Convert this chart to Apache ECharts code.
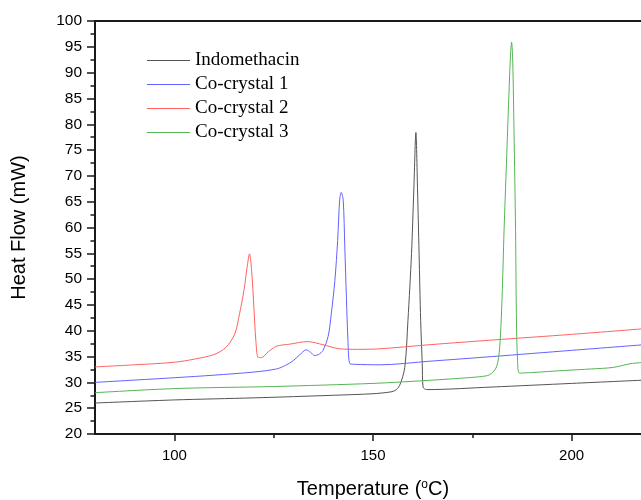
<!DOCTYPE html>
<html>
<head>
<meta charset="utf-8">
<script src="https://cdn.jsdelivr.net/npm/echarts@6/dist/echarts.min.js"></script>
<style>
html,body{margin:0;padding:0;background:#fff;}
#chart{width:641px;height:500px;}
</style>
</head>
<body>
<div id="chart"></div>
<script>
// ---- Data ----
const seriesNames = ['Indomethacin', 'Co-crystal 1', 'Co-crystal 2', 'Co-crystal 3'];

const indoT = [80, 100, 120, 140, 150, 154, 155.5, 156.7, 158, 158.8, 159.7, 160.3, 160.8, 161.2, 161.6, 162.0, 162.4, 162.6, 163.5, 180, 200, 220];
const indoV = [26.0, 26.6, 27.0, 27.5, 27.8, 28.1, 28.4, 29.4, 32.9, 42, 55, 67.8, 78.4, 67.8, 55, 42, 33.7, 29.1, 28.6, 29.1, 29.8, 30.5];

const cc1T = [80, 100, 110, 120, 125.7, 128, 129.9, 131.5, 133.2, 134.3, 135.3, 136.3, 137.4, 138.7, 139.5, 140.4, 141.1, 141.6, 142.0, 142.5, 142.9, 143.3, 143.7, 144.2, 145.4, 151.7, 164.3, 180, 200, 220];
const cc1V = [30.0, 30.9, 31.4, 32.0, 32.6, 33.3, 34.2, 35.3, 36.3, 35.8, 35.2, 35.4, 36.2, 38.9, 43.3, 49.7, 57.5, 65.3, 66.8, 65.3, 56.2, 46.5, 38.1, 33.6, 33.5, 33.4, 34.1, 35.0, 36.2, 37.4];

const cc2T = [80, 90, 100, 105, 110, 113, 115.2, 116.4, 117.5, 118.3, 118.9, 119.5, 120, 120.5, 121.1, 121.9, 123.6, 125.7, 129, 133.5, 137.4, 141.6, 145.8, 151.7, 164.3, 180, 200, 220];
const cc2V = [33.0, 33.4, 33.9, 34.5, 35.4, 36.8, 39.4, 43.3, 47.8, 52.3, 54.9, 51, 44.6, 38.1, 34.8, 34.8, 35.9, 37.0, 37.4, 37.9, 37.3, 36.5, 36.4, 36.5, 37.3, 38.2, 39.3, 40.5];

const cc3T = [80, 100, 125, 150, 164.3, 172, 176.9, 179.4, 181.1, 181.9, 182.5, 183, 183.6, 184.2, 184.6, 184.9, 185.2, 185.5, 185.9, 186.1, 186.4, 186.9, 190, 197.9, 205, 210.5, 214.7, 220];
const cc3V = [28.0, 28.8, 29.2, 29.8, 30.4, 30.8, 31.1, 31.5, 33.0, 36.8, 46.5, 59.4, 72.4, 85.3, 93, 95.9, 91.7, 78.8, 59.4, 43.3, 34.2, 31.8, 31.9, 32.3, 32.6, 32.9, 33.6, 34.0];

const xTickLabels = [100, 150, 200];
const xMinorTicks = [125, 175];

// ---- Chart ----
const colors = ['#555555', '#6262ff', '#ff6262', '#55b455'];
const pair = (t, v) => t.map((x, i) => [x, v[i]]);
const allT = [indoT, cc1T, cc2T, cc3T];
const allV = [indoV, cc1V, cc2V, cc3V];

const gridRect = { left: 95, top: 21, right: -10, bottom: 66, outerBoundsMode: 'none', containLabel: false };
const sans = 'Liberation Sans, Arial, sans-serif';

const chart = echarts.init(document.getElementById('chart'), null, { renderer: 'canvas' });
chart.setOption({
  animation: false,
  backgroundColor: '#fff',
  grid: [
    Object.assign({ show: true, borderColor: '#1a1a1a', borderWidth: 2, backgroundColor: 'transparent' }, gridRect),
    Object.assign({}, gridRect)
  ],
  legend: {
    orient: 'vertical',
    left: 142,
    top: 46,
    icon: 'rect',
    itemWidth: 43,
    itemHeight: 1.2,
    itemGap: 5,
    data: seriesNames,
    textStyle: { fontFamily: 'Liberation Serif, Times New Roman, serif', fontSize: 19, color: '#000' }
  },
  xAxis: [
    {
      type: 'value', gridIndex: 0, min: 80, max: 220,
      name: 'Temperature ({sup|o}C)',
      nameLocation: 'middle', nameGap: 45,
      nameTextStyle: {
        fontFamily: sans, fontSize: 20, color: '#000',
        rich: { sup: { fontFamily: sans, fontSize: 12, color: '#000', verticalAlign: 'top', padding: [0, 0, 9, 0] } }
      },
      axisLine: { lineStyle: { color: '#1a1a1a', width: 2 } },
      axisTick: { show: true, inside: false, length: 7, customValues: xTickLabels, lineStyle: { color: '#1a1a1a', width: 1.5 } },
      axisLabel: { customValues: xTickLabels, fontFamily: sans, fontSize: 15, color: '#000', margin: 14 },
      splitLine: { show: false }
    },
    {
      type: 'value', gridIndex: 1, min: 80, max: 220,
      axisLine: { show: false },
      axisTick: { show: true, inside: false, length: 4, customValues: xMinorTicks, lineStyle: { color: '#1a1a1a', width: 1.5 } },
      axisLabel: { show: false },
      splitLine: { show: false }
    }
  ],
  yAxis: [
    {
      type: 'value', gridIndex: 0, min: 20, max: 100, interval: 5,
      name: 'Heat Flow (mW)',
      nameLocation: 'middle', nameGap: 66,
      nameTextStyle: { fontFamily: sans, fontSize: 20, color: '#000' },
      axisLine: { show: true, lineStyle: { color: '#1a1a1a', width: 2 } },
      axisTick: { show: true, inside: false, length: 8, lineStyle: { color: '#1a1a1a', width: 1.5 } },
      minorTick: { show: true, splitNumber: 2, length: 4.5, lineStyle: { color: '#1a1a1a', width: 1.5 } },
      axisLabel: { fontFamily: sans, fontSize: 15.5, color: '#000', margin: 13 },
      splitLine: { show: false }
    },
    {
      type: 'value', gridIndex: 1, min: 20, max: 100, show: false
    }
  ],
  series: seriesNames.map((name, i) => ({
    name: name,
    type: 'line',
    xAxisIndex: 0, yAxisIndex: 0,
    data: pair(allT[i], allV[i]),
    symbol: 'none',
    showSymbol: false,
    smooth: 0.3,
    color: colors[i],
    itemStyle: { color: colors[i] },
    lineStyle: { color: colors[i], width: 1 },
    z: 2
  }))
});
</script>
</body>
</html>
